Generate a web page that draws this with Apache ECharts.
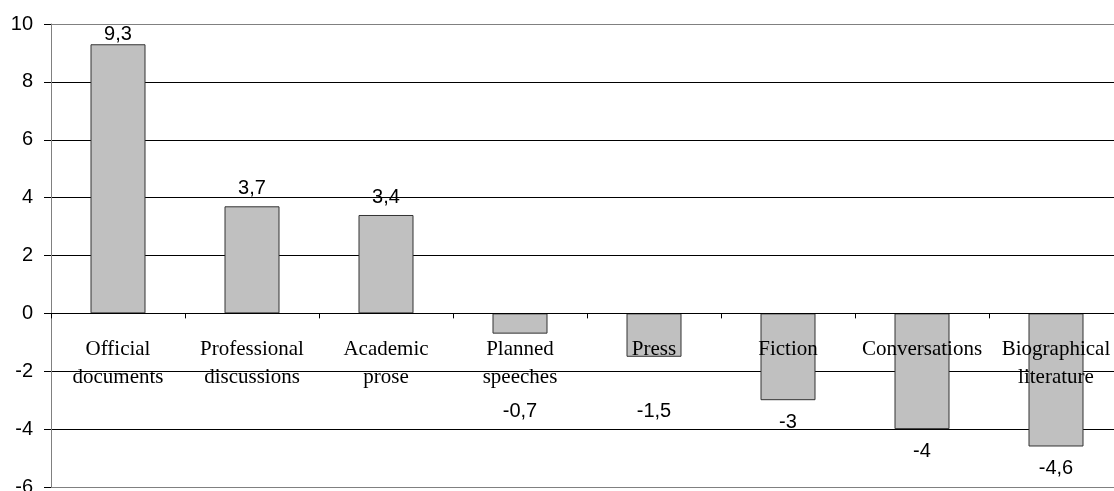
<!DOCTYPE html>
<html>
<head>
<meta charset="utf-8">
<script src="https://cdn.jsdelivr.net/npm/echarts@6/dist/echarts.min.js"></script>
<style>
  html, body { margin: 0; padding: 0; background: #fff; }
  #chart { width: 1114px; height: 491px; }
</style>
</head>
<body>
<div id="chart"></div>
<script>
// Genre categories (x axis) and their scores
const categories = [
  'Official\ndocuments',
  'Professional\ndiscussions',
  'Academic\nprose',
  'Planned\nspeeches',
  'Press',
  'Fiction',
  'Conversations',
  'Biographical\nliterature'
];
const values = [9.3, 3.7, 3.4, -0.7, -1.5, -3, -4, -4.6];

const yMin = -6;
const yMax = 10;
const yStep = 2;

const gridTop = 24;
const gridHeight = 463;
const pxPerUnit = gridHeight / (yMax - yMin);
// distance from the bottom of the plot up to the zero line
const zeroOffset = Math.round(-yMin * pxPerUnit);

const valueFont = 20;
const posLabelGap = 8;
const negLabelGap = 12;
// negative value labels are kept below the two-line category names
const minNegLabelDrop = 88;

function labelDistance(v) {
  const len = Math.abs(v) * pxPerUnit;
  if (v >= 0) {
    // keep the label inside the plot area
    const room = (yMax - v) * pxPerUnit - valueFont;
    return Math.max(0, Math.min(posLabelGap, room));
  }
  return Math.max(negLabelGap, minNegLabelDrop - len);
}

// gridline colours from -6 up to 10: outer lines lighter
const splitColors = ['#808080', '#000', '#000', '#000', '#000', '#000', '#000', '#000', '#808080'];

const chart = echarts.init(document.getElementById('chart'), null, { renderer: 'canvas' });

chart.setOption({
  animation: false,
  backgroundColor: '#ffffff',
  grid: { left: 51, top: gridTop, width: 1072, height: gridHeight, containLabel: false, outerBoundsMode: 'none' },
  xAxis: [{
    type: 'category',
    data: categories,
    z: 10,
    axisLine: { onZero: true, lineStyle: { color: '#000', width: 1 } },
    axisTick: { show: true, length: 5, lineStyle: { color: '#000' } },
    axisLabel: { show: false },
    splitLine: { show: false }
  }, {
    // label-only axis, lifted to sit on the zero line
    type: 'category',
    data: categories,
    position: 'bottom',
    offset: -zeroOffset,
    z: 10,
    axisLine: { show: false },
    axisTick: { show: false },
    axisLabel: {
      color: '#000',
      fontFamily: 'Liberation Serif',
      fontSize: 21,
      lineHeight: 28,
      margin: 22,
      interval: 0
    },
    splitLine: { show: false }
  }],
  yAxis: {
    type: 'value',
    min: yMin,
    max: yMax,
    interval: yStep,
    axisLine: { show: true, lineStyle: { color: '#808080', width: 1 } },
    axisTick: { show: true, length: 7, lineStyle: { color: '#000' } },
    axisLabel: {
      color: '#000',
      fontFamily: 'Liberation Sans',
      fontSize: 20,
      margin: 18,
      formatter: v => String(v)
    },
    splitLine: { show: true, lineStyle: { color: splitColors, width: 1 } }
  },
  series: [{
    type: 'bar',
    xAxisIndex: 0,
    barWidth: 55,
    itemStyle: { color: '#c0c0c0', borderColor: '#333', borderWidth: 1 },
    data: values.map(v => ({
      value: v,
      label: { position: v >= 0 ? 'top' : 'bottom', distance: labelDistance(v) }
    })),
    label: {
      show: true,
      color: '#000',
      fontFamily: 'Liberation Sans',
      fontSize: valueFont,
      formatter: p => String(p.value).replace('.', ',')
    }
  }]
});
</script>
</body>
</html>
